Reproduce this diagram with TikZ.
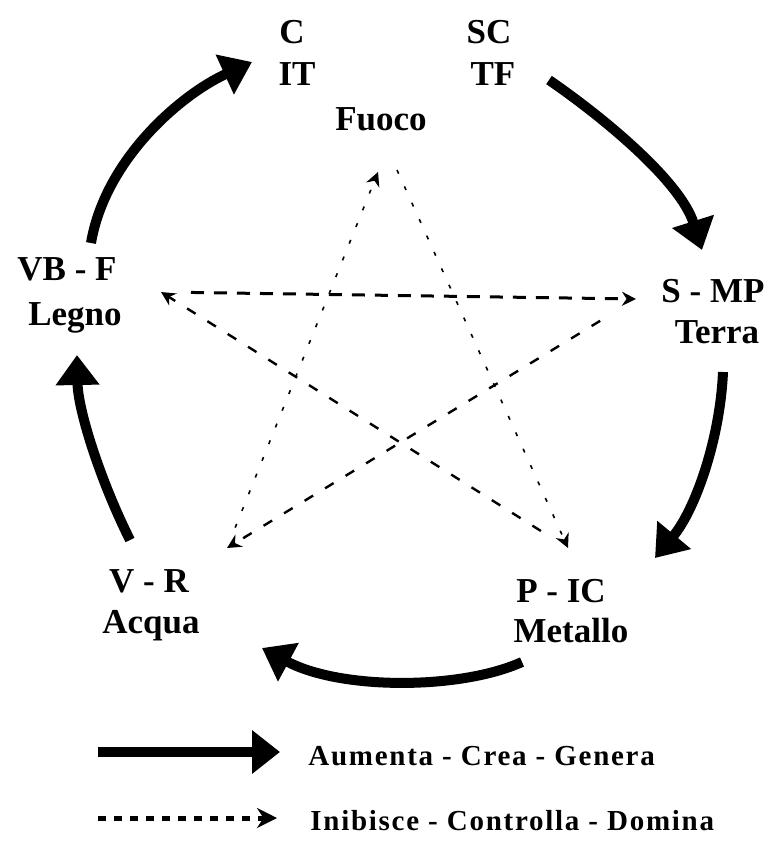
\documentclass[tikz,border=0pt]{standalone}
\usepackage{fontspec}
\setmainfont{Liberation Serif}
\usetikzlibrary{arrows.meta}

\begin{document}
\begin{tikzpicture}[x=0.5pt,y=-0.5pt,
    lbl/.style={anchor=base,inner sep=0pt,font=\fontsize{17.5}{21}\selectfont\bfseries},
    key/.style={anchor=base west,inner sep=0pt,
      font=\fontsize{14.5}{17}\selectfont\bfseries\addfontfeature{LetterSpace=6}},
    gen/.style={line width=5pt,-{Triangle[length=15pt,width=21pt]}},
    inh/.style={line width=1.2pt,dash pattern=on 5pt off 7pt,-{Stealth[length=7pt,width=7pt]}},
    inhdot/.style={line width=0.8pt,dash pattern=on 2pt off 7pt,-{Stealth[length=7pt,width=7pt]}}]
    \useasboundingbox (0,0) rectangle (771,842);

    \node[lbl] (fuocoA) at (292,43) {C};
    \node[lbl] (fuocoB) at (297,85) {IT};
    \node[lbl] (fuocoC) at (489,43) {SC};
    \node[lbl] (fuocoD) at (493,85) {TF};
    \node[lbl] (fuoco) at (381,130) {Fuoco};
    \node[lbl] (legnoA) at (67,280) {VB - F};
    \node[lbl] (legno) at (75,325) {Legno};
    \node[lbl] (terraA) at (713,302) {S - MP};
    \node[lbl] (terra) at (717,343) {Terra};
    \node[lbl] (acquaA) at (149,592) {V - R};
    \node[lbl] (acqua) at (151,633) {Acqua};
    \node[lbl] (metalloA) at (561,602) {P - IC};
    \node[lbl] (metallo) at (571,642) {Metallo};

    \coordinate (legnoOut) at (91,243);
    \coordinate (fuocoIn) at (252,62);
    \coordinate (fuocoOut) at (549,80);
    \coordinate (terraIn) at (702,250);
    \coordinate (terraOut) at (723,372);
    \coordinate (metalloIn) at (655,558);
    \coordinate (metalloOut) at (522,662);
    \coordinate (acquaIn) at (262,648);
    \coordinate (acquaOut) at (130,540);
    \coordinate (legnoIn) at (77,355);
    \draw[gen] (legnoOut) .. controls (105,160) and (180,95) .. (fuocoIn);
    \draw[gen] (fuocoOut) .. controls (600,115) and (680,180) .. (terraIn);
    \draw[gen] (terraOut) .. controls (720,440) and (695,510) .. (metalloIn);
    \draw[gen] (metalloOut) .. controls (460,690) and (340,690) .. (acquaIn);
    \draw[gen] (acquaOut) .. controls (100,480) and (78,410) .. (legnoIn);

    \coordinate (pL) at (161,292);
    \coordinate (pR) at (636,299);
    \coordinate (pBR) at (568,548);
    \coordinate (pBL) at (227,548);
    \coordinate (pTL) at (378,172);
    \coordinate (pTR) at (397,170);
    \draw[inh,line width=1.5pt,dash pattern=on 6.5pt off 5pt,shorten <=15pt] (pL) -- (pR);
    \draw[inh,shorten <=21pt] (pR) -- (pBL);
    \draw[inhdot,shorten <=11pt] (pBL) -- (pTL);
    \draw[inhdot] (pTR) -- (pBR);
    \draw[inh,shorten <=16pt] (pBR) -- (pL);

    \coordinate (keyA) at (98,752);
    \coordinate (keyB) at (280,752);
    \draw[gen,-{Triangle[length=14pt,width=21pt]}] (keyA) -- (keyB);
    \node[key] (keygen) at (308,765) {Aumenta - Crea - Genera};
    \coordinate (keyC) at (98,818);
    \coordinate (keyD) at (277,818);
    \draw[inh,line width=2.5pt,dash pattern=on 4pt off 4pt,-{Stealth[length=10pt,width=10pt]}] (keyC) -- (keyD);
    \node[key] (keyinh) at (310,830) {Inibisce - Controlla - Domina};
\end{tikzpicture}
\end{document}
